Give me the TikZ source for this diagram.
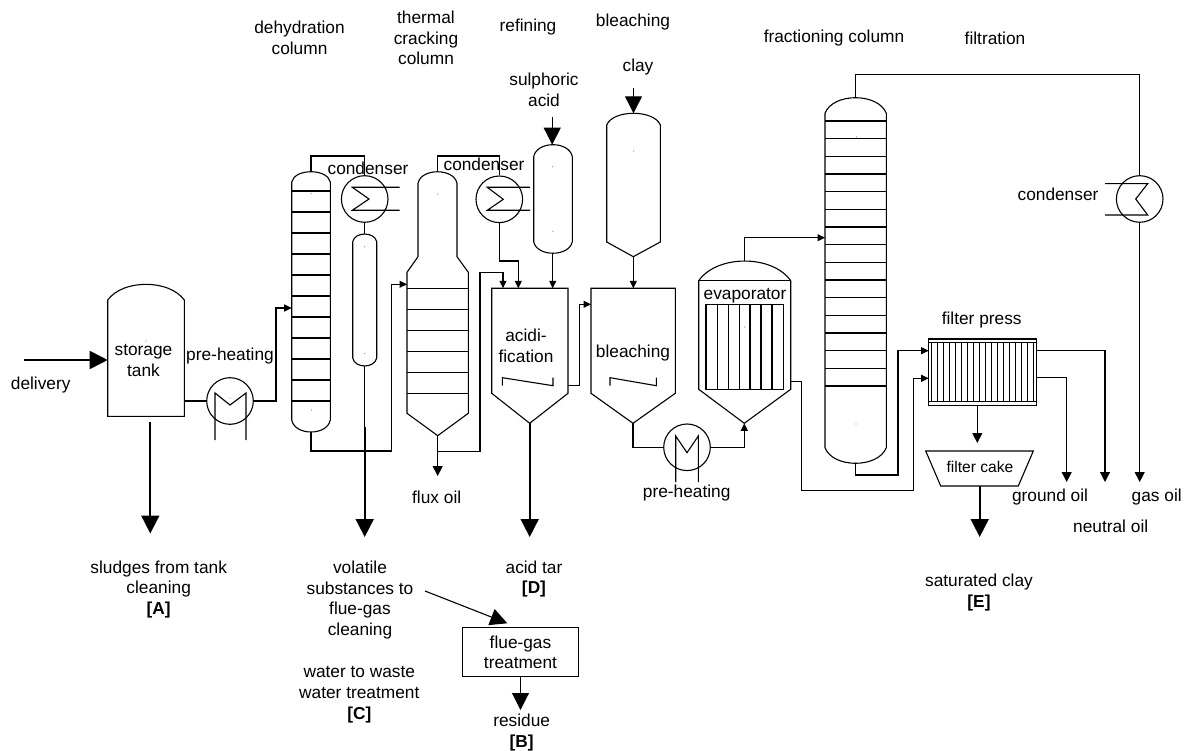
\documentclass[tikz,border=0pt]{standalone}
\usepackage{fontspec}
\setmainfont{Liberation Sans}
\usetikzlibrary{arrows.meta,positioning,calc}
\tikzset{
	every node/.style={font=\fontsize{17.3}{20.7}\selectfont,align=center,inner sep=0pt},
	vessel/.style={draw,line width=1.1pt,line join=miter},
	hex/.style={draw,circle,line width=1.1pt,minimum size=46.6pt},
	pipe/.style={draw,line width=1.1pt},
	flow/.style={pipe,-{Triangle[length=7.5pt,width=7pt]}},
	flowmid/.style={pipe,-{Triangle[length=10pt,width=10pt]}},
	flowfat/.style={pipe,-{Triangle[length=17pt,width=17pt]}},
	heavy/.style={draw,line width=1.8pt,-{Triangle[length=18pt,width=18pt]}},
}
\begin{document}
\begin{tikzpicture}[x=1pt,y=-1pt]
	\useasboundingbox (0,0) rectangle (1184,751);
	% vessels
	\draw[vessel] (107.7,416.3) -- (107.7,300) .. controls (123,279.1) and (169,279.1) .. (184.3,300) -- (184.3,416.3) -- cycle;
	\draw[vessel] (291.7,182) .. controls (294.7,168.3) and (327.3,168.3) .. (330.3,182) -- (330.3,420) .. controls (327.3,436) and (294.7,436) .. (291.7,420) -- cycle;
	\foreach \i in {0,...,10}{\draw[pipe] (291.7,191+21*\i) -- (330.3,191+21*\i);}
	\draw[vessel] (352.7,241.7) .. controls (354.7,231.5) and (374.7,231.5) .. (376.7,241.7) -- (376.7,358) .. controls (374.7,368.6) and (354.7,368.6) .. (352.7,358) -- cycle;
	\draw[vessel] (418,183.3) .. controls (421,167.9) and (454,167.9) .. (457,183.3) -- (457,256.7) -- (468.3,272.3) -- (468.3,413.3) -- (437.7,435.7) -- (407,413.3) -- (407,272.3) -- (418,256.7) -- cycle;
	\foreach \i in {0,...,5}{\draw[pipe] (407,288.3+21*\i) -- (468.3,288.3+21*\i);}
	\draw[vessel] (533.7,156.7) .. controls (536.7,140.7) and (569.3,140.7) .. (572.3,156.7) -- (572.3,241.7) .. controls (569.3,257.1) and (536.7,257.1) .. (533.7,241.7) -- cycle;
	\draw[vessel] (606.7,125) .. controls (613,109.4) and (654,109.4) .. (660.3,125) -- (660.3,242) -- (633.3,256.7) -- (606.7,242) -- cycle;
	\draw[vessel] (491.7,288.3) -- (568,288.3) -- (568,393.3) -- (529.7,423.3) -- (491.7,393.3) -- cycle;
	\draw[pipe] (502.3,385.7) -- (502.3,377.7) -- (553,385.7) -- (553,377.7);
	\draw[vessel] (591,288.3) -- (675.3,288.3) -- (675.3,393.3) -- (633,423.3) -- (591,393.3) -- cycle;
	\draw[pipe] (610,385.7) -- (610,377.7) -- (656.3,385.7) -- (656.3,377.7);
	\draw[vessel] (698.7,280.7) .. controls (717.1,254.5) and (772.3,254.5) .. (790.7,280.7) -- (790.7,389.3) -- (744.3,423.3) -- (698.7,389.3) -- cycle;
	\draw[pipe] (698.7,280.7) -- (790.7,280.7);
	\draw[pipe] (706,304.3) rectangle (783.3,389.3);
	\foreach \x in {717.3,728.3,739.3,750,761,772}{\draw[pipe] (\x,304.3) -- (\x,389.3);}
	\draw[vessel] (825,113.3) .. controls (833,92.5) and (878,92.5) .. (886.3,113.3) -- (886.3,447.7) .. controls (878,468.5) and (833,468.5) .. (825,447.7) -- cycle;
	\foreach \i in {0,...,15}{\draw[pipe] (825,121+17.67*\i) -- (886.3,121+17.67*\i);}
	\draw[vessel] (928.7,339) rectangle (1036.7,405.3);
	\draw[pipe] (928.7,342.7) -- (1036.7,342.7) (928.7,401.3) -- (1036.7,401.3);
	\foreach \i in {0,...,17}{\draw[pipe] (931.7+5.97*\i,342.7) -- (931.7+5.97*\i,401.3);}
	\draw[vessel] (925.7,451) -- (1033.3,451) -- (1018.3,486) -- (940.7,486) -- cycle;
	\foreach \x/\y in {146/341,311/193.5,311.5/410,364.7/246.7,364.7/353.5,437.7/194,552.7/166.7,553/231.3,633.7/151,744.7/327,856.5/137,856/424,230/398}{\fill[gray] (\x,\y) circle (0.6);}
	% heat exchangers
	\node[hex] (heater1) at (230,401) {};
	\node[hex] (heater2) at (687,447.3) {};
	\node[hex] (cond1) at (364.7,199) {};
	\node[hex] (cond2) at (499.3,199.3) {};
	\node[hex] (cond3) at (1139.7,199) {};
	\draw[pipe] (215,440) -- (215,393) -- (230,405) -- (246,393) -- (246,440);
	\draw[pipe] (675.7,482) -- (675.7,436) -- (687,452.7) -- (698.3,436) -- (698.3,482);
	\draw[pipe] (399.5,187.3) -- (352.3,187.3) -- (369,199) -- (352.3,210.3) -- (399.5,210.3);
	\draw[pipe] (530,187.3) -- (487.3,187.3) -- (503.3,199.3) -- (487.3,210.3) -- (530,210.3);
	\draw[pipe] (1105,183.7) -- (1147.7,183.7) -- (1135.7,199) -- (1147.7,215) -- (1105,215);
	% ports
	\coordinate (deliveryin) at (24,360);
	\coordinate (tankfeed) at (107.7,360);
	\coordinate (tankout) at (184.3,401);
	\coordinate (sludgeout) at (150.3,422);
	\coordinate (sludgeend) at (150.3,533.5);
	\coordinate (dehydin) at (291.7,308);
	\coordinate (dehydtop) at (311,171.7);
	\coordinate (dehydbot) at (311,432);
	\coordinate (septop) at (364.7,234);
	\coordinate (sepbot) at (364.7,366);
	\coordinate (sepmid) at (364.7,427);
	\coordinate (sepend) at (364.7,537);
	\coordinate (crackin) at (407,284.3);
	\coordinate (cracktop) at (437.7,171.7);
	\coordinate (crackbot) at (437.7,435.7);
	\coordinate (crackjoin) at (437.7,451.3);
	\coordinate (fluxend) at (437.7,476);
	\coordinate (acidin1) at (503,288.3);
	\coordinate (acidin2) at (518.3,288.3);
	\coordinate (acidin3) at (552.7,288.3);
	\coordinate (acidout) at (568,385.3);
	\coordinate (acidbot) at (529.7,423.3);
	\coordinate (acidend) at (529.7,537);
	\coordinate (sulphin) at (552.2,117.3);
	\coordinate (sulphtop) at (552.2,144.7);
	\coordinate (sulphbot) at (552.7,253.3);
	\coordinate (clayin) at (633.5,88.3);
	\coordinate (claytop) at (633.5,113.3);
	\coordinate (claybot) at (633.3,256.7);
	\coordinate (bleachin) at (633.3,288.3);
	\coordinate (bleachside) at (591,304.3);
	\coordinate (bleachbot) at (633,423.3);
	\coordinate (evapbot) at (744.3,423.3);
	\coordinate (evaptop) at (744.3,261);
	\coordinate (evapout) at (790.7,381.7);
	\coordinate (fracin) at (825,237.7);
	\coordinate (fractop) at (855.7,97.7);
	\coordinate (fracbot) at (855.7,463.3);
	\coordinate (pressin1) at (928.7,350.7);
	\coordinate (pressin2) at (928.7,378.3);
	\coordinate (pressout1) at (1036.7,350.7);
	\coordinate (pressout2) at (1036.7,377.7);
	\coordinate (pressbot) at (977.3,405.3);
	\coordinate (caketop) at (977.3,443);
	\coordinate (cakebot) at (979.7,486);
	\coordinate (cakeend) at (979.7,537);
	\coordinate (neutralend) at (1105,482);
	\coordinate (groundend) at (1066.7,482);
	\coordinate (gasend) at (1139.7,482);
	\coordinate (volatilefrom) at (425,591);
	\coordinate (volatileto) at (507.3,623.3);
	% connectors
	\draw[heavy] (deliveryin) -- (tankfeed);
	\draw[heavy] (sludgeout) -- (sludgeend);
	\draw[pipe] (tankout) -- (heater1.west);
	\draw[flow] (heater1.east) -- (276,401) |- (dehydin);
	\draw[pipe] (dehydtop) |- (364.7,156) -- (cond1.north);
	\draw[pipe] (cond1.south) -- (septop);
	\draw[pipe] (sepbot) -- (sepmid);
	\draw[heavy] (sepmid) -- (sepend);
	\draw[flow] (dehydbot) |- (391.7,451) |- (crackin);
	\draw[pipe] (cracktop) |- (499.3,156) -- (cond2.north);
	\draw[flow] (cond2.south) |- (518.3,261) -- (acidin2);
	\draw[flowmid] (crackbot) -- (fluxend);
	\draw[flow] (crackjoin) -| (480,272.7) -| (acidin1);
	\draw[flowfat] (sulphin) -- (sulphtop);
	\draw[flow] (sulphbot) -- (acidin3);
	\draw[heavy] (acidbot) -- (acidend);
	\draw[flow] (acidout) -| (579.7,304.3) -- (bleachside);
	\draw[flowfat] (clayin) -- (claytop);
	\draw[flow] (claybot) -- (bleachin);
	\draw[pipe] (bleachbot) |- (heater2.west);
	\draw[flow] (heater2.east) -| (evapbot);
	\draw[flow] (evaptop) |- (fracin);
	\draw[flow] (evapout) -| (801.7,490.3) -| (913.7,378.3) -- (pressin2);
	\draw[flow] (fracbot) |- (898,475) |- (pressin1);
	\draw[pipe] (fractop) |- (1139.7,74.7) -- (cond3.north);
	\draw[flowmid] (cond3.south) -- (gasend);
	\draw[flowmid] (pressout1) -| (neutralend);
	\draw[flowmid] (pressout2) -| (groundend);
	\draw[flowmid] (pressbot) -- (caketop);
	\draw[heavy] (cakebot) -- (cakeend);
	\draw[flowfat] (volatilefrom) -- (volatileto);
	% flue-gas unit
	\node[draw,line width=1pt,minimum width=115.6pt,minimum height=49.3pt] (flue) at (520.5,652.3) {flue-gas\\treatment};
	\coordinate (residueto) at (520.5,710);
	\draw[flowfat] (flue.south) -- (residueto);
	% labels
	\node (delivery) at (40.7,385) {delivery};
	\node (storage) at (143.5,360.5) {storage\\tank};
	\node (preheat1) at (230,355.7) {pre-heating};
	\node (preheat2) at (686.7,493) {pre-heating};
	\node (condlabel1) at (368,168.5) {condenser};
	\node (condlabel2) at (484,164) {condenser};
	\node (condlabel3) at (1058,194) {condenser};
	\node (dehydlabel) at (299.5,37.5) {dehydration\\column};
	\node (cracklabel) at (426,38) {thermal\\cracking\\column};
	\node (refinelabel) at (528,27) {refining};
	\node (bleachlabel) at (633,22.5) {bleaching};
	\node (claylabel) at (638,67.5) {clay};
	\node (sulphlabel) at (544,90) {sulphoric\\acid};
	\node (fraclabel) at (834,38) {fractioning column};
	\node (filtlabel) at (995,38) {filtration};
	\node (acidilabel) at (526,346) {acidi-\\fication};
	\node (bleachtext) at (633,353) {bleaching};
	\node (evaplabel) at (745,295.3) {evaporator};
	\node (presslabel) at (981.7,320) {filter press};
	\node[font=\fontsize{15.6}{19}\selectfont] (cakelabel) at (980,466.7) {filter cake};
	\node (fluxlabel) at (436.7,497) {flux oil};
	\node (groundlabel) at (1050,497) {ground oil};
	\node (gaslabel) at (1156.7,497) {gas oil};
	\node (neutrallabel) at (1110.7,526) {neutral oil};
	\node (sludgelabel) at (158.7,589.5) {sludges from tank\\cleaning\\\textbf{[A]}};
	\node (volatilelabel) at (360,600) {volatile\\substances to\\flue-gas\\cleaning};
	\node (waterlabel) at (359.3,694.5) {water to waste\\water treatment\\\textbf{[C]}};
	\node (tarlabel) at (534,579) {acid tar\\\textbf{[D]}};
	\node (residuelabel) at (521.7,732.5) {residue\\\textbf{[B]}};
	\node (claysat) at (979,592.5) {saturated clay\\\textbf{[E]}};
\end{tikzpicture}
\end{document}
